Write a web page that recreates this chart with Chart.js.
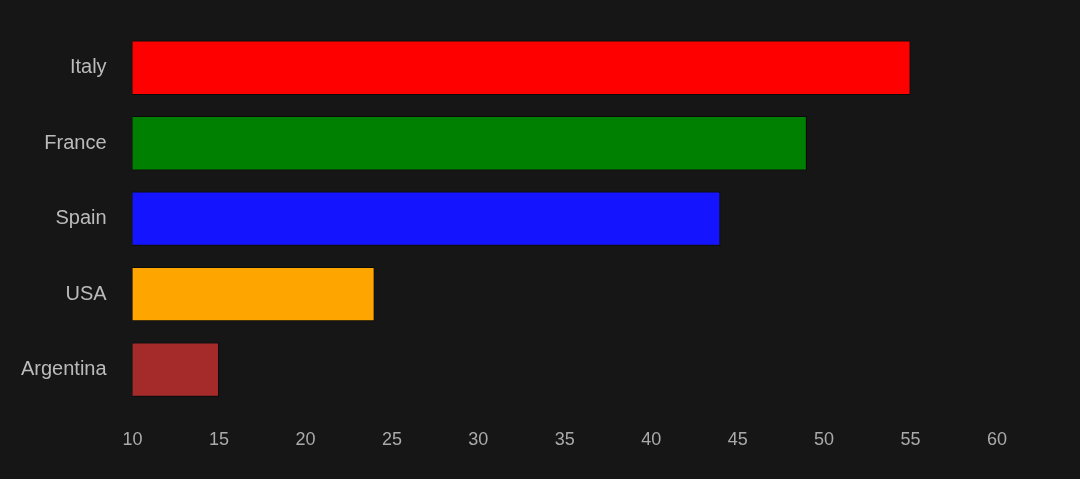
<!DOCTYPE html>
<html><head><meta charset="utf-8">
<script src="https://cdn.jsdelivr.net/npm/chart.js@4"></script>
<style>html,body{margin:0;background:#161616;}#w{width:1080px;height:479px;}</style>
</head><body><div id="w"><canvas id="c"></canvas></div>
<script>
const categories=["Italy","France","Spain","USA","Argentina"];
const values=[55,49,44,24,15];
const colors=["#ff0000","#008000","#1414ff","#ffa500","#a52a2a"];
new Chart(document.getElementById('c'),{
type:'bar',
data:{labels:categories,datasets:[{data:values,backgroundColor:colors,borderColor:'#0a0a0a',borderWidth:1,categoryPercentage:0.72,barPercentage:1}]},
options:{indexAxis:'y',responsive:true,maintainAspectRatio:false,animation:false,
layout:{padding:{top:1,right:83,bottom:14,left:3}},
plugins:{legend:{display:false},tooltip:{enabled:false}},
scales:{
x:{min:10,max:60,ticks:{stepSize:5,color:'#aaaaaa',font:{family:'Liberation Sans',size:18},padding:14},grid:{display:false},border:{display:false}},
y:{ticks:{color:'#bbbbbb',font:{family:'Liberation Sans',size:20},padding:18},grid:{display:false},border:{display:false}}
}}});
</script></body></html>
